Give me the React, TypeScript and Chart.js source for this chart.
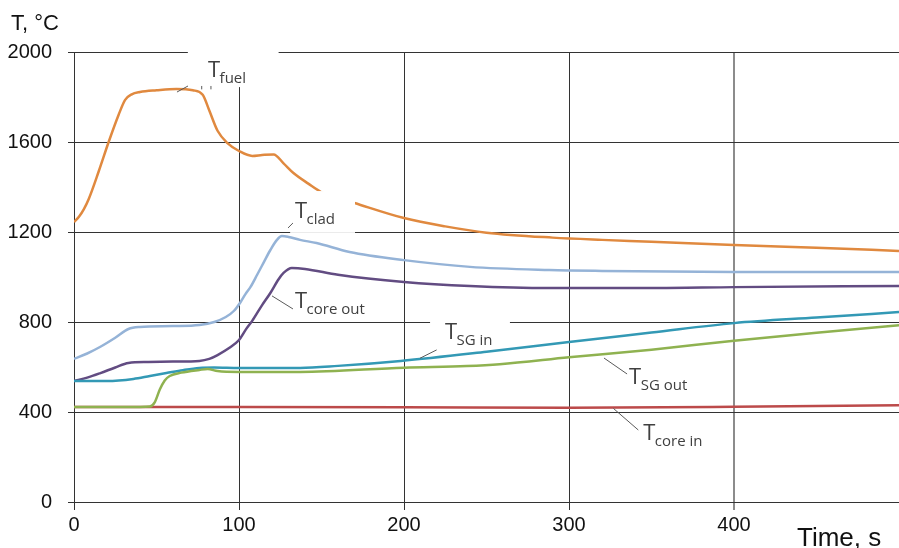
import React, { useEffect, useRef } from 'react';
import { Chart, registerables } from 'chart.js';

Chart.register(...registerables);

// ---- Data (time in s, temperature in °C) ----
const fuelTime = [0, 3, 6, 9, 15, 21, 27, 31, 35, 40, 50, 62, 72, 78, 82, 87, 93, 100, 108, 114, 121, 127, 133, 142, 151, 170, 200, 225, 250, 290, 320, 350, 400, 450, 500];
const fuelTemp = [1244, 1268, 1302, 1348, 1470, 1600, 1720, 1787, 1812, 1822, 1830, 1836, 1830, 1810, 1740, 1650, 1595, 1560, 1538, 1542, 1545, 1505, 1462, 1415, 1373, 1329, 1262, 1225, 1197, 1175, 1165, 1157, 1142, 1130, 1116];

const cladTime = [0, 8, 16, 25, 33, 40, 60, 76, 85, 92, 97, 101, 104, 107, 111, 115, 119, 123, 126, 130, 137, 147, 167, 200, 240, 288, 320, 400, 500];
const cladTemp = [636, 660, 690, 730, 769, 778, 782, 787, 800, 822, 850, 889, 925, 956, 1010, 1065, 1120, 1165, 1182, 1178, 1165, 1151, 1111, 1075, 1045, 1031, 1027, 1022, 1022];

const coreOutTime = [0, 8, 16, 25, 33, 45, 60, 76, 82, 87, 94, 100, 104, 108, 114, 119, 124, 127, 132, 140, 160, 200, 240, 288, 350, 400, 500];
const coreOutTemp = [538, 553, 573, 598, 618, 622, 624, 627, 636, 653, 684, 720, 765, 805, 875, 929, 990, 1018, 1040, 1036, 1010, 978, 960, 951, 951, 955, 960];

const sgInTime = [0, 20, 36, 46, 56, 66, 76, 85, 100, 137, 160, 198, 250, 300, 350, 400, 450, 500];
const sgInTemp = [538, 538, 547, 560, 573, 586, 596, 598, 596, 596, 605, 627, 668, 711, 753, 795, 820, 844];

const sgOutTime = [0, 20, 40, 46, 49, 52, 55, 58, 65, 76, 81, 87, 100, 137, 200, 238, 258, 300, 350, 400, 450, 500];
const sgOutTemp = [422, 422, 422, 424, 444, 500, 540, 560, 575, 587, 591, 582, 578, 578, 597, 604, 612, 643, 677, 717, 752, 786];

const coreInTime = [0, 100, 200, 300, 400, 500];
const coreInTemp = [422, 422, 421, 419, 423, 430];

const xTickValues = [0, 100, 200, 300, 400, 500];
const yTickValues = [0, 400, 800, 1200, 1600, 2000];

// Curve labels anchored in data units: text position, leader line, optional white box
type Label = {
  sub: string;
  tx: number; ty: number;
  leader: number[];
  box?: number[];
  extra?: number[][];
};
const curveLabels: Label[] = [
  { sub: 'fuel', tx: 81.2, ty: 1889, leader: [62.4, 1822, 69.1, 1849], box: [69, 2080, 124, 1844], extra: [[77.4, 1849, 77.4, 1834], [83, 1849, 83, 1834]] },
  { sub: 'clad', tx: 133.9, ty: 1262, leader: [129.7, 1218, 132.7, 1240], box: [131, 1382, 170.3, 1196] },
  { sub: 'core out', tx: 133.9, ty: 862, leader: [120, 916, 132.7, 858] },
  { sub: 'SG in', tx: 224.8, ty: 724, leader: [209.7, 639, 219.8, 676], box: [215.8, 876, 264.2, 689] },
  { sub: 'SG out', tx: 336.4, ty: 524, leader: [321.2, 640, 335.2, 569] },
  { sub: 'core in', tx: 345, ty: 276, leader: [326.9, 416, 342, 320] },
];

const pts = (xs: number[], ys: number[]) => xs.map((x, i) => ({ x, y: ys[i] }));

const labelPlugin = {
  id: 'curveLabels',
  afterDatasetsDraw(chart: any) {
    const { ctx, scales } = chart;
    const X = (v: number) => scales.x.getPixelForValue(v);
    const Y = (v: number) => scales.y.getPixelForValue(v);
    ctx.save();
    ctx.fillStyle = '#ffffff';
    curveLabels.forEach((l) => {
      if (l.box) {
        const [x0, y0, x1, y1] = l.box;
        ctx.fillRect(X(x0), Y(y0), X(x1) - X(x0), Y(y1) - Y(y0));
      }
    });
    ctx.strokeStyle = '#5a5a5a';
    ctx.lineWidth = 1;
    curveLabels.forEach((l) => {
      const segs = [l.leader, ...(l.extra || [])];
      segs.forEach((s) => {
        ctx.beginPath();
        ctx.moveTo(X(s[0]), Y(s[1]));
        ctx.lineTo(X(s[2]), Y(s[3]));
        ctx.stroke();
      });
    });
    ctx.fillStyle = '#404040';
    ctx.textBaseline = 'alphabetic';
    ctx.textAlign = 'left';
    curveLabels.forEach((l) => {
      const x = X(l.tx);
      const y = Y(l.ty);
      ctx.font = '22px "Open Sans"';
      ctx.fillText('T', x, y);
      const w = ctx.measureText('T').width;
      ctx.font = '15px "Open Sans"';
      ctx.fillText(l.sub, x + w - 0.5, y + 6);
    });
    ctx.fillStyle = '#111111';
    ctx.font = '22px Arial, "Liberation Sans", sans-serif';
    ctx.fillText('T, °C', 11, 30);
    ctx.font = '26px Arial, "Liberation Sans", sans-serif';
    ctx.fillText('Time, s', 797, 546);
    ctx.restore();
  },
};

export default function App() {
  const ref = useRef<HTMLCanvasElement | null>(null);
  useEffect(() => {
    if (!ref.current) return;
    const lw = 2.5;
    const ds = (label: string, xs: number[], ys: number[], color: string) => ({
      label,
      data: pts(xs, ys),
      borderColor: color,
      backgroundColor: color,
      borderWidth: lw,
      pointRadius: 0,
      cubicInterpolationMode: 'monotone' as const,
      fill: false,
    });
    const chart = new Chart(ref.current, {
      type: 'line',
      data: {
        datasets: [
          ds('T SG out', sgOutTime, sgOutTemp, '#8fb250'),
          ds('T SG in', sgInTime, sgInTemp, '#3399b5'),
          ds('T fuel', fuelTime, fuelTemp, '#e0893f'),
          ds('T clad', cladTime, cladTemp, '#95b3d7'),
          ds('T core out', coreOutTime, coreOutTemp, '#624c82'),
          ds('T core in', coreInTime, coreInTemp, '#bc4a4a'),
        ],
      },
      options: {
        responsive: false,
        animation: false,
        devicePixelRatio: 1,
        layout: { autoPadding: false, padding: { top: 52, left: 0, right: 0, bottom: 0 } },
        plugins: { legend: { display: false }, tooltip: { enabled: false }, title: { display: false } },
        scales: {
          x: {
            type: 'linear',
            min: 0,
            max: 500,
            afterBuildTicks: (s: any) => { s.ticks = xTickValues.map((v) => ({ value: v })); },
            afterFit: (s: any) => { s.height = 46; s.paddingRight = 0; },
            ticks: {
              autoSkip: false,
              maxRotation: 0,
              padding: 0,
              color: '#111111',
              font: { family: 'Arial, "Liberation Sans", sans-serif', size: 20, lineHeight: 1.5 },
              callback: (v: any) => (v === 500 ? '' : String(v)),
            },
            grid: {
              tickLength: 8,
              color: (c: any) => (c.tick && c.tick.value === 500 ? 'rgba(0,0,0,0)' : c.tick && c.tick.value === 400 ? '#8c8c8c' : '#333333'),
              lineWidth: (c: any) => (c.tick && c.tick.value === 400 ? 2 : 1),
            },
            border: { color: '#333333', width: 1 },
          },
          y: {
            type: 'linear',
            min: 0,
            max: 2000,
            afterBuildTicks: (s: any) => { s.ticks = yTickValues.map((v) => ({ value: v })); },
            afterFit: (s: any) => { s.width = 74; },
            ticks: {
              padding: 16,
              color: '#111111',
              font: { family: 'Arial, "Liberation Sans", sans-serif', size: 20 },
              callback: (v: any) => String(v),
            },
            grid: { tickLength: 6, color: '#333333', lineWidth: 1 },
            border: { color: '#333333', width: 1 },
          },
        },
      },
      plugins: [labelPlugin],
    });
    return () => chart.destroy();
  }, []);
  return (
    <div style={{ position: 'fixed', left: 0, top: 0, width: 899, height: 548, background: '#fff' }}>
      <canvas ref={ref} width={899} height={548} style={{ display: 'block' }} />
    </div>
  );
}
